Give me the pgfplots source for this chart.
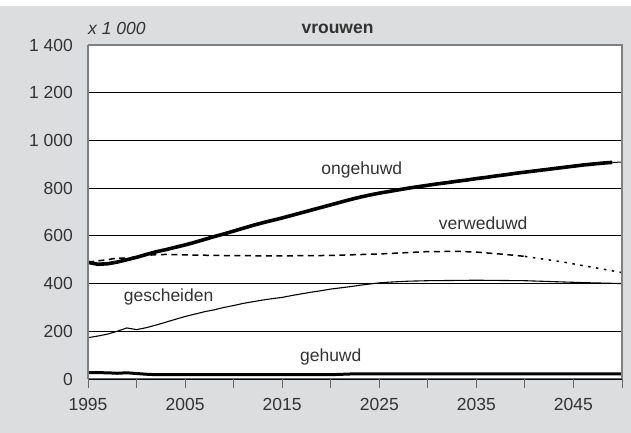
\documentclass[border=0pt]{standalone}
\usepackage{pgfplots}
\pgfplotsset{compat=1.18}
\usepackage{fontspec}
\setmainfont{Liberation Sans}
\definecolor{bggrey}{HTML}{DCDDDF}
\definecolor{framegrey}{HTML}{808080}
\definecolor{txt}{HTML}{333333}
\newcommand{\lblfont}{\fontsize{17.5}{20}\selectfont}

\begin{document}
\begin{tikzpicture}[x=1pt,y=1pt]
\fill[white] (0,0) rectangle (631,433);
\fill[bggrey] (0,0) rectangle (631,427);
\begin{axis}[
    at={(88pt,54pt)},
    anchor=south west,
    scale only axis,
    width=534pt,
    height=334pt,
    xmin=1995, xmax=2050,
    ymin=0, ymax=1400,
    axis background/.style={fill=white},
    axis line style={draw=none},
    xtick={1995,2000,...,2050},
    xticklabels={1995,,2005,,2015,,2025,,2035,,2045,},
    ytick={0,200,...,1400},
    yticklabels={0,200,400,600,800,1 000,1 200,1 400},
    ymajorgrids,
    grid style={black,line width=1.2pt},
    tick align=outside,
    xtick pos=bottom,
    ytick style={draw=none},
    xtick style={framegrey!80!black,line width=1pt},
    major tick length=9pt,
    ticklabel style={font=\lblfont,text=txt},
    yticklabel style={anchor=east,inner sep=0pt,xshift=-6pt},
    xticklabel style={anchor=north,inner sep=0pt,yshift=-10pt},
    clip=false,
]
% ongehuwd
\addplot[black,line width=3.6pt] coordinates {
(1995,489)(1996,481)(1997,483)(1998,490)(1999,500)(2000,510)(2001,522)(2002,533)
(2003,542)(2004,552)(2005,562)(2006,573)(2007,585)(2008,597)(2009,608)(2010,620)
(2011,632)(2012,644)(2013,655)(2014,665)(2015,675)(2016,686)(2017,697)(2018,708)
(2019,719)(2020,730)(2021,741)(2022,752)(2023,762)(2024,771)(2025,779)(2026,786)
(2027,793)(2028,800)(2029,806)(2030,812)(2031,818)(2032,823)(2033,829)(2034,834)
(2035,840)(2036,845)(2037,851)(2038,856)(2039,862)(2040,867)(2041,872)(2042,877)
(2043,882)(2044,887)(2045,892)(2046,897)(2047,901)(2048,905)(2049,908)
};
\addplot[black,line width=1pt] coordinates {(2049,908)(2050,909)};
% verweduwd
\addplot[black,line width=1.5pt,dash pattern=on 6pt off 4.5pt] coordinates {
(1995,490)(1996,495)(1997,500)(1998,507)(1999,506)(2000,512)(2001,518)(2002,521)
(2003,522)(2005,520)(2010,517)(2015,516)(2020,518)(2025,524)(2028,530)(2030,534)
(2033,535)(2035,532)(2038,522)(2040,514)
};
\addplot[black,line width=1.5pt,dash pattern=on 2.5pt off 5.5pt] coordinates {
(2040,514)(2042,502)(2044,490)(2046,475)(2048,461)(2050,446)
};
% gescheiden
\addplot[black,line width=1.1pt] coordinates {
(1995,173)(1996,180)(1997,188)(1998,200)(1999,214)(2000,207)(2001,215)(2002,226)
(2003,238)(2004,250)(2005,262)(2006,272)(2007,282)(2008,290)(2009,300)(2010,308)
(2011,317)(2012,324)(2013,331)(2014,337)(2015,342)(2016,350)(2017,357)(2018,364)
(2019,370)(2020,377)(2021,382)(2022,387)(2023,393)(2024,398)(2025,403)(2026,406)
(2027,408)(2028,410)(2030,412)(2035,414)(2040,412)(2043,408)(2046,404)(2050,400)
};
% gehuwd
\addplot[black,line width=3pt] coordinates {
(1995,27)(1997,26)(1998,24)(1999,26)(2000,23)(2001,20)(2002,18)(2005,18)(2010,18)
(2015,18)(2020,18)(2022,21)(2025,22)(2030,22)(2035,22)(2040,22)(2045,22)(2050,22)
};
% frame
\draw[framegrey,line width=1.2pt] (rel axis cs:0,1) -- (rel axis cs:1,1) -- (rel axis cs:1,0);
\draw[framegrey!80!black,line width=1pt] (rel axis cs:0,0) -- (rel axis cs:1,0);
\draw[framegrey,line width=2pt] (rel axis cs:0,0) -- (rel axis cs:0,1);
% labels
\node[text=txt,font=\lblfont] at (axis cs:2023.2,876) {ongehuwd};
\node[text=txt,font=\lblfont] at (axis cs:2035.7,654) {verweduwd};
\node[text=txt,font=\lblfont] at (axis cs:2003.3,345) {gescheiden};
\node[text=txt,font=\lblfont] at (axis cs:2020,94) {gehuwd};
\node[text=txt,font=\lblfont\itshape,anchor=west,inner sep=0pt] at (rel axis cs:0,1.048) {x 1 000};
\node[text=txt,font=\lblfont\bfseries] at (axis cs:2020.7,1467) {vrouwen};
\end{axis}
\pgfresetboundingbox
\useasboundingbox (0,0) rectangle (631,433);
\end{tikzpicture}
\end{document}
